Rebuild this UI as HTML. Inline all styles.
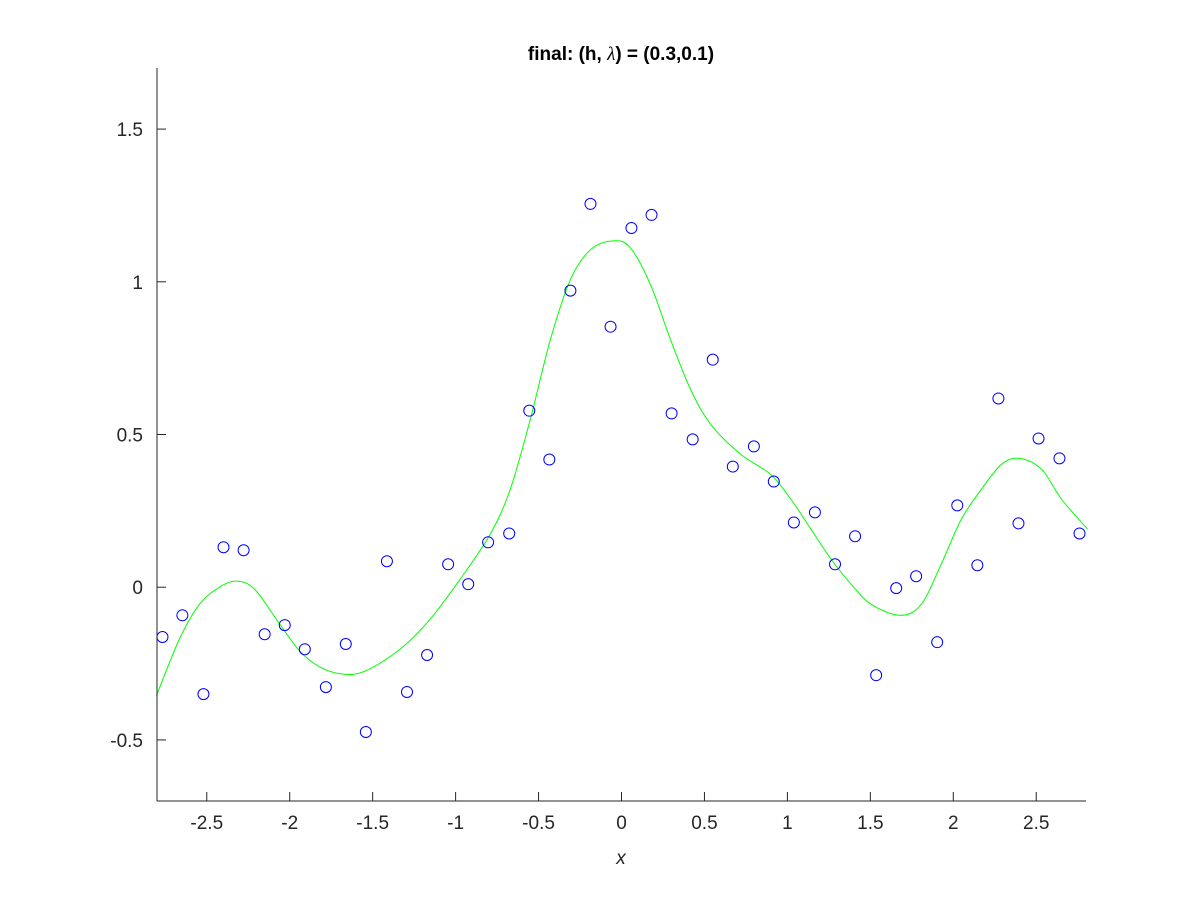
<!DOCTYPE html>
<html><head><meta charset="utf-8"><style>
html,body{margin:0;padding:0;background:#fff;}
svg text{font-family:"Liberation Sans",Arial,sans-serif;}
</style></head><body>
<svg id="chart" width="1200" height="900" viewBox="0 0 1200 900" xmlns="http://www.w3.org/2000/svg">
<rect width="1200" height="900" fill="#fff"/>
<g id="marks"></g>
<g id="axes"></g>
<text x="621" y="60" text-anchor="middle" font-size="19" font-weight="bold" fill="#000">final: (h, <tspan font-family="'Liberation Serif',serif" font-style="italic" font-weight="normal">λ</tspan>) = (0.3,0.1)</text>
<text x="621" y="864" text-anchor="middle" font-size="19" font-style="italic" fill="#262626">x</text>
</svg>
<script>
const xTicks=[-2.5,-2,-1.5,-1,-0.5,0,0.5,1,1.5,2,2.5];
const xTickLabels=["-2.5","-2","-1.5","-1","-0.5","0","0.5","1","1.5","2","2.5"];
const yTicks=[-0.5,0,0.5,1,1.5];
const yTickLabels=["-0.5","0","0.5","1","1.5"];
const dataX=[-2.767,-2.647,-2.520,-2.399,-2.278,-2.151,-2.030,-1.909,-1.782,-1.662,-1.541,-1.414,-1.293,-1.172,-1.045,-0.924,-0.804,-0.677,-0.556,-0.435,-0.308,-0.187,-0.066,0.060,0.181,0.302,0.429,0.550,0.671,0.798,0.918,1.039,1.166,1.287,1.408,1.535,1.656,1.776,1.903,2.024,2.145,2.272,2.393,2.514,2.640,2.761];
const dataY=[-0.163,-0.092,-0.350,0.131,0.121,-0.154,-0.124,-0.203,-0.327,-0.186,-0.474,0.085,-0.343,-0.222,0.075,0.010,0.147,0.176,0.578,0.418,0.971,1.255,0.853,1.176,1.219,0.569,0.484,0.745,0.395,0.461,0.346,0.212,0.245,0.075,0.167,-0.288,-0.003,0.036,-0.180,0.268,0.072,0.618,0.209,0.487,0.422,0.176];
const fitX=[-2.804,-2.665,-2.544,-2.423,-2.320,-2.211,-2.060,-1.940,-1.819,-1.686,-1.547,-1.335,-1.154,-0.973,-0.792,-0.671,-0.550,-0.429,-0.308,-0.187,-0.048,0.054,0.175,0.296,0.417,0.538,0.719,0.900,1.021,1.142,1.263,1.384,1.505,1.680,1.807,1.927,2.048,2.169,2.290,2.399,2.532,2.653,2.810];
const fitY=[-0.356,-0.170,-0.056,0,0.020,-0.007,-0.121,-0.209,-0.261,-0.284,-0.275,-0.203,-0.105,0.026,0.173,0.320,0.549,0.810,1.007,1.105,1.134,1.111,0.990,0.810,0.647,0.533,0.435,0.369,0.288,0.190,0.092,0.010,-0.056,-0.092,-0.056,0.075,0.222,0.320,0.402,0.422,0.386,0.288,0.190];
const L=157,R=1086,T=68,B=801,xmin=-2.8,xmax=2.8,ymin=-0.7,ymax=1.7;
const sx=v=>L+(v-xmin)/(xmax-xmin)*(R-L);
const sy=v=>B-(v-ymin)/(ymax-ymin)*(B-T);
const NS="http://www.w3.org/2000/svg";
const marks=document.getElementById('marks'),axes=document.getElementById('axes');
function mk(tag,attrs,parent){const e=document.createElementNS(NS,tag);for(const k in attrs)e.setAttribute(k,attrs[k]);parent.appendChild(e);return e;}
const P=fitX.map((x,i)=>[sx(x),sy(fitY[i])]);
let d=`M${P[0][0]},${P[0][1]}`;
for(let i=0;i<P.length-1;i++){const p0=P[Math.max(0,i-1)],p1=P[i],p2=P[i+1],p3=P[Math.min(P.length-1,i+2)];
d+=` C${p1[0]+(p2[0]-p0[0])/6},${p1[1]+(p2[1]-p0[1])/6} ${p2[0]-(p3[0]-p1[0])/6},${p2[1]-(p3[1]-p1[1])/6} ${p2[0]},${p2[1]}`;}
const line=mk('path',{d:d,fill:'none',stroke:'#00ff00','stroke-width':1},marks);


dataX.forEach((x,i)=>{const c=mk('circle',{cx:sx(x),cy:sy(dataY[i]),r:5.5,fill:'none',stroke:'#0000ff','stroke-width':1},marks);

});
const xa=mk('path',{d:`M${L},${B}H${R}`,stroke:'#262626','stroke-width':1,fill:'none'},axes);


const ya=mk('path',{d:`M${L},${T}V${B}`,stroke:'#262626','stroke-width':1,fill:'none'},axes);


xTicks.forEach((v,i)=>{const x=sx(v);mk('path',{d:`M${x},${B}v-9`,stroke:'#262626'},axes);
const t=mk('text',{x:x,y:B+28,'text-anchor':'middle','font-size':19,fill:'#262626'},axes);t.textContent=xTickLabels[i];

});
yTicks.forEach((v,i)=>{const y=sy(v);mk('path',{d:`M${L},${y}h9`,stroke:'#262626'},axes);
const t=mk('text',{x:L-14,y:y+7,'text-anchor':'end','font-size':19,fill:'#262626'},axes);t.textContent=yTickLabels[i];

});
</script>
</body></html>
